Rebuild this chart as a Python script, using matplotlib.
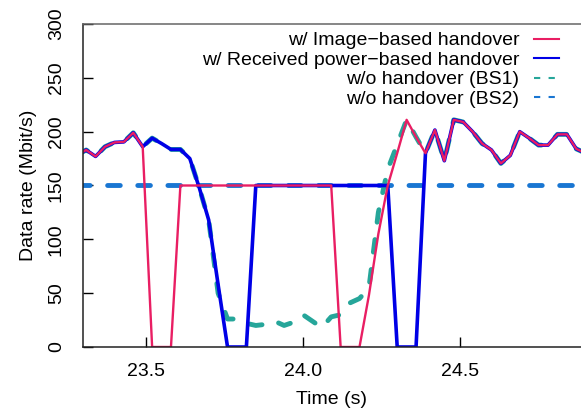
import numpy as np
import matplotlib.pyplot as plt
from matplotlib.lines import Line2D

plt.rcParams['font.family'] = ['Liberation Sans', 'DejaVu Sans']

# sample times (s), one every 0.03 s
t = np.round(np.arange(23.28, 24.905, 0.03), 2)

# w/ Image-based handover
img = [178, 183, 177, 186, 190, 190.5, 199, 186,
       0, 0, 0, 150, 150, 150, 150, 150, 150, 150, 150, 150, 150, 150,
       150, 150, 150, 150, 150, 150, 0, 0, 0, 48, 105, 150, 180, 211,
       195, 180, 201.5, 173, 211, 209, 200, 189, 183, 170.5, 178, 200,
       194, 187.5, 187.5, 197.5, 197.5, 184, 180]

# w/ Received power-based handover
rx = [178, 183, 177, 186, 190, 190.5, 199, 186,
      194, 189, 183.5, 183.5, 175, 148, 118, 58, 0, 0, 0, 150, 150, 150,
      150, 150, 150, 150, 150, 150, 150, 150, 150, 150, 150, 150, 0, 0,
      0, 180, 201.5, 173, 211, 209, 200, 189, 183, 170.5, 178, 200,
      194, 187.5, 187.5, 197.5, 197.5, 184, 180]

# w/o handover (BS1)
bs1 = [178, 183, 177, 186, 190, 190.5, 199, 186,
       194, 189, 183.5, 183.5, 175, 148, 118, 50, 26, 26, 22, 20, 21, 24,
       20, 23, 30, 24, 18, 28, 30, 41, 45, 55, 125, 165, 188, 211,
       195, 180, 201.5, 173, 211, 209, 200, 189, 183, 170.5, 178, 200,
       194, 187.5, 187.5, 197.5, 197.5, 184, 180]

# w/o handover (BS2)
bs2 = [150] * len(t)

c_img = '#e91e63'
c_rx = '#0000e6'
c_bs1 = '#26a69a'
c_bs2 = '#1976d2'

fs = 14

fig = plt.figure(figsize=(5.81, 4.15), dpi=100)
ax = fig.add_axes([83/581, 68/415, 1 - 83/581, 323/415])

ax.plot(t, bs2, color=c_bs2, lw=3.5, dashes=(2.6, 3.6), dash_capstyle='round')
ax.plot(t, bs1, color=c_bs1, lw=3.5, dashes=(2.6, 3.6), dash_capstyle='round')
ax.plot(t, rx, color=c_rx, lw=2.6)
ax.plot(t, img, color=c_img, lw=1.7)

ax.set_xlim(23.3, 24.885)
ax.set_ylim(0, 300)
ax.set_xticks([23.5, 24.0, 24.5])
ax.set_xticklabels(['23.5', '24.0', '24.5'])
ax.set_yticks([0, 50, 100, 150, 200, 250, 300])
ax.tick_params(direction='in', length=7, width=1, labelsize=fs)
ax.tick_params(axis='x', pad=11.5)
ax.tick_params(axis='y', pad=13)
for lab in ax.get_yticklabels():
    lab.set_rotation(90)
    lab.set_va('center')
ax.spines['right'].set_visible(False)
for s in ['left', 'bottom', 'top']:
    ax.spines[s].set_linewidth(1.1)
    ax.spines[s].set_color('#222222')
ax.spines['top'].set_color('#666666')

ax.set_xlabel('Time (s)', fontsize=fs, labelpad=8)
ax.set_ylabel('Data rate (Mbit/s)', fontsize=fs, labelpad=8)

handles = [
    Line2D([], [], color=c_img, lw=1.5),
    Line2D([], [], color=c_rx, lw=1.5),
    Line2D([], [], color=c_bs1, lw=1.5, dashes=(3, 4)),
    Line2D([], [], color=c_bs2, lw=1.5, dashes=(3, 4)),
]
labels = ['w/ Image\u2212based handover',
          'w/ Received power\u2212based handover',
          'w/o handover (BS1)',
          'w/o handover (BS2)']
fig.legend(handles, labels, loc='upper right',
           bbox_to_anchor=(569/581, 1 - 22/415), borderpad=0,
           frameon=False, markerfirst=False, fontsize=fs,
           handlelength=1.3, handletextpad=0.75, labelspacing=0.1)

fig.savefig('out.png', dpi=100)
